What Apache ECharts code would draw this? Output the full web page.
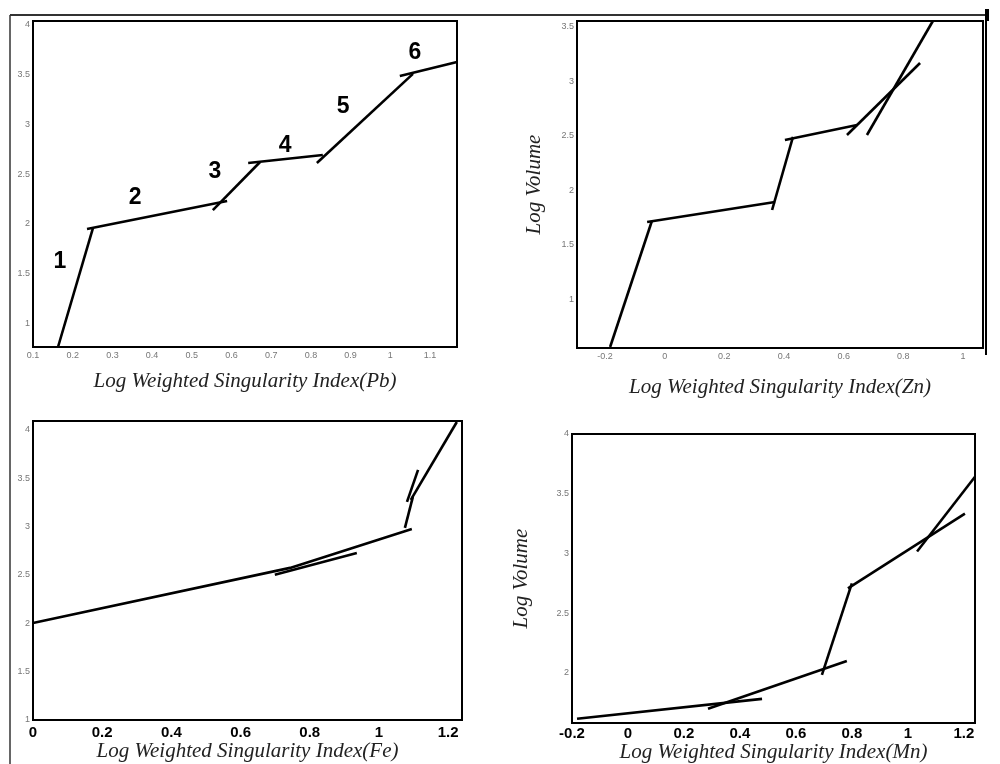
<!DOCTYPE html>
<html>
<head>
<meta charset="utf-8">
<script src="https://cdn.jsdelivr.net/npm/echarts@6/dist/echarts.min.js"></script>
<style>
  html, body { margin: 0; padding: 0; background: #fff; }
  #chart { width: 1000px; height: 764px; }
</style>
</head>
<body>
<div id="chart"></div>
<script>
// tick labels
const pbXTicks = [0.1, 0.2, 0.3, 0.4, 0.5, 0.6, 0.7, 0.8, 0.9, 1, 1.1];
const pbYTicks = [1, 1.5, 2, 2.5, 3, 3.5, 4];
const znXTicks = [-0.2, 0, 0.2, 0.4, 0.6, 0.8, 1];
const znYTicks = [1, 1.5, 2, 2.5, 3, 3.5];
const feXTicks = [0, 0.2, 0.4, 0.6, 0.8, 1, 1.2];
const feYTicks = [1, 1.5, 2, 2.5, 3, 3.5, 4];
const mnXTicks = [-0.2, 0, 0.2, 0.4, 0.6, 0.8, 1, 1.2];
const mnYTicks = [2, 2.5, 3, 3.5, 4];

// fitted segments, each [start, end] as [x, y]
const pbSegments = [
  [[0.163, 0.76], [0.251, 1.957]],
  [[0.236, 1.947], [0.589, 2.229]],
  [[0.553, 2.138], [0.672, 2.621]],
  [[0.642, 2.611], [0.830, 2.692]],
  [[0.815, 2.611], [1.057, 3.508]],
  [[1.024, 3.487], [1.168, 3.628]]
];
const pbLabels = ['1', '2', '3', '4', '5', '6'];
const pbLabelPos = [[0.168, 1.614], [0.357, 2.26], [0.558, 2.52], [0.735, 2.79], [0.881, 3.175], [1.062, 3.72]];

const znSegments = [
  [[-0.183, 0.564], [-0.043, 1.72]],
  [[-0.059, 1.711], [0.370, 1.894]],
  [[0.360, 1.821], [0.430, 2.491]],
  [[0.403, 2.463], [0.645, 2.601]],
  [[0.611, 2.509], [0.856, 3.170]],
  [[0.678, 2.509], [0.899, 3.555]]
];

const feSegments = [
  [[0, 2.003], [0.743, 2.572], [1.095, 2.975]],
  [[0.699, 2.50], [0.936, 2.727]],
  [[1.075, 2.985], [1.098, 3.306]],
  [[1.081, 3.254], [1.113, 3.585]],
  [[1.092, 3.275], [1.225, 4.08]]
];

const mnSegments = [
  [[-0.182, 1.617], [0.479, 1.783]],
  [[0.286, 1.70], [0.782, 2.10]],
  [[0.693, 1.983], [0.800, 2.75]],
  [[0.786, 2.708], [1.204, 3.333]],
  [[1.033, 3.017], [1.24, 3.642]]
];

const chart = echarts.init(document.getElementById('chart'), null, { renderer: 'canvas' });

const nameStyle = {
  fontFamily: 'Liberation Serif',
  fontStyle: 'italic',
  fontSize: 21,
  color: '#222'
};
const smallLabel = { fontSize: 9, color: '#777', fontFamily: 'Liberation Sans' };
const boldLabel = { fontSize: 15, color: '#000', fontWeight: 'bold', fontFamily: 'Liberation Sans' };

function xAxis(idx, min, max, ticks, label, name, gap, margin) {
  return {
    type: 'value', gridIndex: idx, min: min, max: max,
    name: name, nameLocation: 'middle', nameGap: gap, nameTextStyle: nameStyle,
    axisLine: { show: false }, axisTick: { show: false }, splitLine: { show: false },
    axisLabel: Object.assign({ customValues: ticks, margin: margin, showMinLabel: true, showMaxLabel: true }, label)
  };
}
function yAxis(idx, min, max, ticks, name, gap) {
  return {
    type: 'value', gridIndex: idx, min: min, max: max,
    name: name || '', nameLocation: 'middle', nameGap: gap || 0, nameTextStyle: nameStyle,
    axisLine: { show: false }, axisTick: { show: false }, splitLine: { show: false },
    axisLabel: Object.assign({ customValues: ticks, margin: 3 }, smallLabel)
  };
}

const series = [];
function addSegments(segs, idx) {
  segs.forEach(function (s) {
    series.push({
      type: 'line', xAxisIndex: idx, yAxisIndex: idx, data: s,
      showSymbol: false, silent: true, clip: true,
      lineStyle: { color: '#000', width: 2.6 }
    });
  });
}
addSegments(pbSegments, 0);
addSegments(znSegments, 1);
addSegments(feSegments, 2);
addSegments(mnSegments, 3);

series.push({
  type: 'scatter', xAxisIndex: 0, yAxisIndex: 0, symbolSize: 1, silent: true,
  itemStyle: { opacity: 0 },
  data: pbLabelPos.map(function (p, i) { return { value: p, name: pbLabels[i] }; }),
  label: {
    show: true, position: 'inside', formatter: '{b}', opacity: 1,
    fontSize: 23, fontWeight: 'bold', color: '#000', fontFamily: 'Liberation Sans'
  }
});

const grid = { show: true, borderColor: '#000', borderWidth: 2, backgroundColor: '#fff' };

chart.setOption({
  backgroundColor: '#fff',
  animation: false,
  grid: [
    Object.assign({ left: 33, top: 21, width: 424, height: 326 }, grid),
    Object.assign({ left: 577, top: 21, width: 406, height: 327 }, grid),
    Object.assign({ left: 33, top: 421, width: 429, height: 299 }, grid),
    Object.assign({ left: 572, top: 434, width: 403, height: 291 }, grid)
  ],
  xAxis: [
    xAxis(0, 0.1, 1.168, pbXTicks, smallLabel, 'Log Weighted Singularity Index(Pb)', 24, 4),
    xAxis(1, -0.294, 1.067, znXTicks, smallLabel, 'Log Weighted Singularity Index(Zn)', 29, 4),
    xAxis(2, 0, 1.24, feXTicks, boldLabel, 'Log Weighted Singularity Index(Fe)', 20, 5),
    xAxis(3, -0.2, 1.24, mnXTicks, boldLabel, 'Log Weighted Singularity Index(Mn)', 13, 3)
  ],
  yAxis: [
    yAxis(0, 0.76, 4.04, pbYTicks),
    yAxis(1, 0.555, 3.555, znYTicks, 'Log Volume', 32),
    yAxis(2, 1, 4.09, feYTicks),
    yAxis(3, 1.58, 4.0, mnYTicks, 'Log Volume', 40)
  ],
  graphic: [
    { type: 'line', shape: { x1: 10, y1: 15, x2: 988, y2: 15 }, style: { stroke: '#333', lineWidth: 2 } },
    { type: 'line', shape: { x1: 10, y1: 15, x2: 10, y2: 764 }, style: { stroke: '#333', lineWidth: 1.5 } },
    { type: 'line', shape: { x1: 986, y1: 15, x2: 986, y2: 355 }, style: { stroke: '#000', lineWidth: 2 } },
    { type: 'line', shape: { x1: 987, y1: 9, x2: 987, y2: 21 }, style: { stroke: '#000', lineWidth: 4 } }
  ],
  series: series
});
</script>
</body>
</html>
